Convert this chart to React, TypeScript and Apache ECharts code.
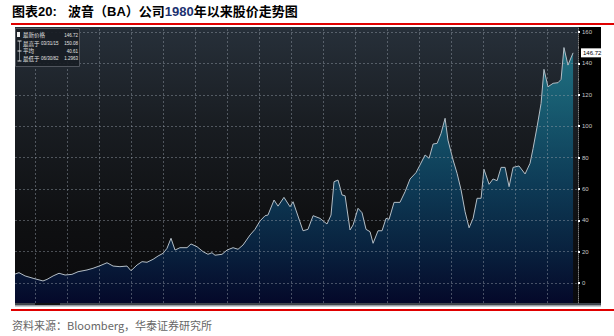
import React, { useEffect, useRef } from "react";
import * as echarts from "echarts";

// Monthly-ish samples (year as decimal, price in USD)
const years = [
  1980.75, 1981.0, 1981.38, 1981.88, 1982.5, 1982.75, 1983.13, 1983.5, 1983.88, 1984.31,
  1984.69, 1985.25, 1985.63, 1986.06, 1986.5, 1986.88, 1987.31, 1987.75, 1988.0, 1988.38,
  1988.69, 1989.0, 1989.38, 1989.69, 1990.0, 1990.25, 1990.5, 1990.75, 1991.06, 1991.5,
  1991.75, 1992.13, 1992.5, 1992.81, 1993.06, 1993.25, 1993.69, 1994.0, 1994.38, 1994.69,
  1995.0, 1995.44, 1995.75, 1996.06, 1996.38, 1996.56, 1996.94, 1997.19, 1997.56, 1997.94,
  1998.13, 1998.56, 1998.75, 1999.06, 1999.38, 1999.81, 2000.25, 2000.5, 2000.69, 2000.94,
  2001.19, 2001.38, 2001.69, 2001.88, 2002.19, 2002.44, 2002.69, 2002.94, 2003.13, 2003.44,
  2003.69, 2003.94, 2004.13, 2004.44, 2004.81, 2005.13, 2005.44, 2005.81, 2006.06, 2006.38,
  2006.63, 2006.88, 2007.13, 2007.38, 2007.63, 2007.81, 2008.13, 2008.38, 2008.63, 2008.88,
  2009.13, 2009.38, 2009.63, 2009.88, 2010.06, 2010.38, 2010.63, 2010.88, 2011.13, 2011.38,
  2011.63, 2011.88, 2012.25, 2012.63, 2012.94, 2013.13, 2013.38, 2013.63, 2013.81, 2014.06,
  2014.38, 2014.69, 2014.88, 2015.06, 2015.31, 2015.63,
];
const prices = [
  5.7, 6.6, 4.5, 3.0, 1.3, 2.3, 4.5, 6.2, 5.1, 5.5,
  7.2, 8.3, 9.4, 11.0, 12.9, 10.8, 10.4, 10.8, 7.8, 11.5,
  13.6, 13.2, 15.1, 17.2, 18.9, 22.1, 28.5, 21.0, 22.5, 22.5,
  24.9, 23.1, 20.0, 18.3, 19.3, 17.7, 18.3, 21.0, 22.5, 21.5,
  24.2, 30.6, 34.2, 39.5, 42.9, 43.3, 52.9, 49.0, 54.6, 48.6,
  51.8, 39.0, 33.3, 34.2, 42.9, 41.2, 37.6, 43.3, 64.6, 65.6,
  56.1, 55.6, 33.8, 37.0, 47.6, 44.8, 34.2, 32.7, 25.3, 33.3,
  33.3, 41.2, 40.6, 51.4, 51.4, 58.2, 66.3, 70.3, 75.2, 81.6,
  79.5, 88.6, 89.0, 95.4, 105.0, 91.1, 78.4, 69.9, 59.3, 45.4,
  35.2, 41.2, 54.0, 54.0, 72.5, 62.9, 66.3, 65.2, 73.7, 73.7,
  61.4, 73.7, 74.6, 69.5, 76.3, 85.8, 99.6, 114.5, 136.2, 125.1,
  127.3, 127.7, 129.8, 150.08, 138.9, 146.72,
];
const gridYears = [1982, 1984, 1986, 1988, 1990, 1992, 1994, 1996, 1998, 2000, 2002, 2004, 2006, 2008, 2010, 2012, 2014];
const tickValues = [0, 20, 40, 60, 80, 100, 120, 140, 160];
const latestPrice = 146.72;
const legendLabels = ["最新价格", "最高于", "平均", "最低于"];
const legendDates = ["", "03/31/15", "", "06/30/82"];
const legendValues = ["146.72", "150.08", "40.61", "1.2963"];

const TITLE_PREFIX = "图表20:";
const TITLE_A = "波音（BA）公司";
const TITLE_YEAR = "1980";
const TITLE_B = "年以来股价走势图";
const SOURCE = "资料来源：Bloomberg，华泰证券研究所";

const FONT = "'Liberation Sans', 'Noto Sans CJK SC', sans-serif";
const CJK = "'Noto Sans CJK SC', 'Liberation Sans', sans-serif";

export default function App() {
  const ref = useRef<HTMLDivElement>(null);

  useEffect(() => {
    if (!ref.current) return;
    const chart = echarts.init(ref.current, undefined, { renderer: "svg" });

    const legendRowY = [35, 43.5, 51, 58.5];
    const legendEls: any[] = [
      {
        type: "rect", z: 20,
        shape: { x: 15.5, y: 28.5, width: 64, height: 38 },
        style: { fill: "rgba(24,29,36,0.92)", stroke: "#50555d", lineWidth: 1 },
      },
      { type: "rect", z: 21, shape: { x: 17, y: 32, width: 3, height: 5 }, style: { fill: "#f0f0f0" } },
      { type: "line", z: 21, shape: { x1: 19.5, y1: 41, x2: 19.5, y2: 61 }, style: { stroke: "#9aa0a6", lineWidth: 0.8 } },
      { type: "line", z: 21, shape: { x1: 17.5, y1: 41, x2: 21.5, y2: 41 }, style: { stroke: "#e0e0e0", lineWidth: 1 } },
      { type: "line", z: 21, shape: { x1: 17.5, y1: 51, x2: 21.5, y2: 51 }, style: { stroke: "#e0e0e0", lineWidth: 1 } },
      { type: "line", z: 21, shape: { x1: 17.5, y1: 61, x2: 21.5, y2: 61 }, style: { stroke: "#e0e0e0", lineWidth: 1 } },
    ];
    legendLabels.forEach((lab, i) => {
      legendEls.push({
        type: "text", z: 21, x: 23, y: legendRowY[i],
        style: { text: lab, fill: "#e4e4e4", font: `5.5px ${CJK}`, verticalAlign: "middle" },
      });
      if (legendDates[i]) {
        legendEls.push({
          type: "text", z: 21, x: 41, y: legendRowY[i],
          style: { text: legendDates[i], fill: "#e4e4e4", font: `4.5px ${FONT}`, verticalAlign: "middle" },
        });
      }
      legendEls.push({
        type: "text", z: 21, x: 78, y: legendRowY[i],
        style: { text: legendValues[i], fill: "#e4e4e4", font: `4.5px ${FONT}`, verticalAlign: "middle", align: "right" },
      });
    });

    const option: any = {
      animation: false,
      textStyle: { fontFamily: FONT },
      grid: { left: 15, right: 36, top: 27, bottom: 33, containLabel: false },
      xAxis: {
        type: "value",
        min: 1980.75,
        max: 2015.9375,
        show: false,
        splitLine: { show: false },
      },
      yAxis: {
        type: "value",
        position: "right",
        min: -12.75,
        max: 163.19,
        splitNumber: 9,
        axisLine: { show: true, lineStyle: { color: "#7a7a7a", type: "dotted", width: 1 } },
        axisTick: { show: true, customValues: tickValues, length: 2, lineStyle: { color: "#ffffff", width: 2 } },
        minorTick: { show: true, splitNumber: 2, length: 1, lineStyle: { color: "#8a8a8a", width: 1 } },
        axisLabel: { customValues: tickValues, color: "#c8c8c8", fontSize: 6, margin: 4 },
        splitLine: { show: false },
      },
      graphic: [
        // plot background
        {
          type: "rect", z: -5,
          shape: { x: 15, y: 27, width: 563, height: 276 },
          style: {
            fill: new echarts.graphic.LinearGradient(0, 0, 0, 1, [
              { offset: 0, color: "#27303a" },
              { offset: 0.35, color: "#191d22" },
              { offset: 0.7, color: "#0f1012" },
              { offset: 1, color: "#0a0a0c" },
            ]),
          },
        },
        // right axis panel
        { type: "rect", z: -5, shape: { x: 578, y: 27, width: 23, height: 276 }, style: { fill: "#000000" } },
        // bottom scroll bar
        { type: "rect", z: -5, shape: { x: 15, y: 303, width: 586, height: 2 }, style: { fill: "#3f444b" } },
        { type: "rect", z: -5, shape: { x: 35, y: 303, width: 25, height: 2 }, style: { fill: "#101113" } },
        { type: "rect", z: -5, shape: { x: 15, y: 305, width: 586, height: 1.5 }, style: { fill: "#9a9ea4" } },
        // title
        {
          type: "text", z: 10, x: 12, y: 11,
          style: {
            text: `{p|${TITLE_PREFIX}}`,
            verticalAlign: "middle",
            rich: { p: { fontSize: 13, fontWeight: "bold", fontFamily: FONT, fill: "#000" } },
          },
        },
        {
          type: "text", z: 10, x: 68, y: 11,
          style: {
            text: `{a|${TITLE_A}}{y|${TITLE_YEAR}}{a|${TITLE_B}}`,
            verticalAlign: "middle",
            rich: {
              a: { fontSize: 13, fontWeight: "bold", fontFamily: FONT, fill: "#000" },
              y: { fontSize: 13, fontWeight: "bold", fontFamily: FONT, fill: "#1c3170" },
            },
          },
        },
        { type: "rect", z: 10, shape: { x: 11, y: 23, width: 603, height: 2 }, style: { fill: "#e00000" } },
        { type: "rect", z: 10, shape: { x: 11, y: 309, width: 603, height: 2 }, style: { fill: "#e00000" } },
        {
          type: "text", z: 10, x: 12, y: 325,
          style: { text: SOURCE, fill: "#666666", font: `11px ${CJK}`, verticalAlign: "middle" },
        },
        ...legendEls,
      ],
      series: [
        {
          type: "line",
          data: years.map((yr, i) => [yr, prices[i]]),
          symbol: "none",
          smooth: false,
          lineStyle: { color: "#b4bec6", width: 1 },
          areaStyle: {
            origin: "start",
            color: new echarts.graphic.LinearGradient(0, 27, 0, 303, [
              { offset: 0, color: "#2499ab" },
              { offset: 0.3, color: "#15728e" },
              { offset: 0.55, color: "#0c4e73" },
              { offset: 0.8, color: "#072b53" },
              { offset: 1, color: "#020836" },
            ], true),
          },
          markLine: {
            silent: true,
            symbol: ["none", "none"],
            label: { show: false },
            lineStyle: { color: "rgba(150,160,170,0.45)", type: [2, 2], width: 1 },
            data: [
              ...tickValues.map((v) => ({ yAxis: v })),
              ...gridYears.map((y) => ({ xAxis: y })),
              {
                yAxis: latestPrice,
                lineStyle: { color: "rgba(0,0,0,0)", width: 0 },
                label: {
                  show: true,
                  position: "end",
                  formatter: String(latestPrice),
                  backgroundColor: "#ffffff",
                  color: "#000000",
                  fontSize: 6,
                  padding: [2, 2, 1, 2],
                  distance: 3,
                },
              },
            ],
          },
        },
      ],
    };

    chart.setOption(option);
    return () => chart.dispose();
  }, []);

  return (
    <div
      ref={ref}
      style={{ position: "absolute", left: 0, top: 0, width: 614, height: 336, background: "#ffffff" }}
    />
  );
}
